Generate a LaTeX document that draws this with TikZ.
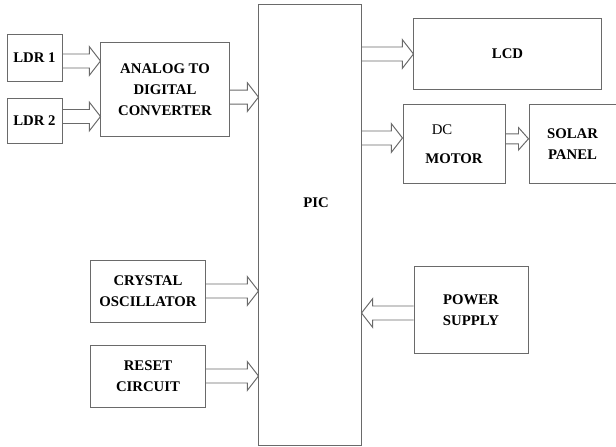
\documentclass[tikz,border=0pt]{standalone}
\usepackage{fontspec}
\newfontfamily\diagfont{Liberation Serif}
\usetikzlibrary{calc}
\definecolor{cline}{HTML}{6A6A6A}
\tikzset{
  every picture/.style={line width=0.7pt},
  blk/.style 2 args={draw=cline, align=center, inner sep=2pt, minimum width=#1cm, minimum height=#2cm, font=\diagfont\bfseries\fontsize{10.5}{15}\selectfont},
  hollow/.style={draw=cline, line width=0.7pt, line join=miter},
}
% hollow block arrow: shaft half width, head half width, head length
\newcommand{\arrshaft}{0.175cm}
\newcommand{\arrhead}{0.36cm}
\newcommand{\arrlen}{0.28cm}
\newcommand{\hollowarrow}[2]{%
  \draw[hollow] let \p1=(#1), \p2=(#2), \n1={sign(\x2-\x1)} in
    (\x1,\y1+\arrshaft) -- (\x2-\n1*\arrlen,\y1+\arrshaft) -- (\x2-\n1*\arrlen,\y1+\arrhead)
    -- (\x2,\y1) -- (\x2-\n1*\arrlen,\y1-\arrhead) -- (\x2-\n1*\arrlen,\y1-\arrshaft)
    -- (\x1,\y1-\arrshaft);}

\begin{document}
\begin{tikzpicture}[x=0.025cm, y=-0.025cm]
  \useasboundingbox (0,0) rectangle (616,446);
  % inputs
  \node[blk={1.375}{1.15}] (ldr1) at (34.5,58) {LDR 1};
  \node[blk={1.375}{1.125}] (ldr2) at (34.5,120.5) {LDR 2};
  \node[blk={3.2}{2.325}] (adc) at (165,89.5) {ANALOG TO\\DIGITAL\\CONVERTER};
  \node[blk={2.85}{1.55}] (xtal) at (148,291) {CRYSTAL\\OSCILLATOR};
  \node[blk={2.85}{1.55}] (reset) at (148,376) {RESET\\CIRCUIT};
  % controller
  \node[blk={2.55}{11.0}, label={[font=\diagfont\bfseries\fontsize{10.5}{15}\selectfont, xshift=0.15cm, yshift=0.55cm]center:PIC}] (pic) at (310,225) {};
  % outputs
  \node[blk={4.675}{1.75}] (lcd) at (507.5,54) {LCD};
  \node[blk={2.55}{1.95}] (motor) at (454,144) {{\mdseries DC}\hspace*{0.6cm}\\[6pt]MOTOR};
  \node[blk={2.175}{1.95}] (solar) at (572.5,144) {SOLAR\\PANEL};
  \node[blk={2.85}{2.15}] (power) at (471,310) {POWER\\SUPPLY};
  % arrows
  \hollowarrow{[yshift=-0.075cm]ldr1.east}{adc.west}
  \hollowarrow{[yshift=0.1cm]ldr2.east}{adc.west}
  \hollowarrow{[yshift=-0.19cm]adc.east}{pic.west}
  \hollowarrow{pic.east |- lcd.west}{lcd.west}
  \hollowarrow{[yshift=0.15cm]pic.east |- motor.west}{motor.west}
  {\renewcommand{\arrshaft}{0.125cm}\renewcommand{\arrhead}{0.28cm}\renewcommand{\arrlen}{0.25cm}
  \hollowarrow{[yshift=0.13cm]motor.east}{solar.west}}
  \hollowarrow{xtal.east}{pic.west}
  \hollowarrow{reset.east}{pic.west}
  \hollowarrow{[yshift=-0.075cm]power.west}{pic.east}
\end{tikzpicture}
\end{document}
